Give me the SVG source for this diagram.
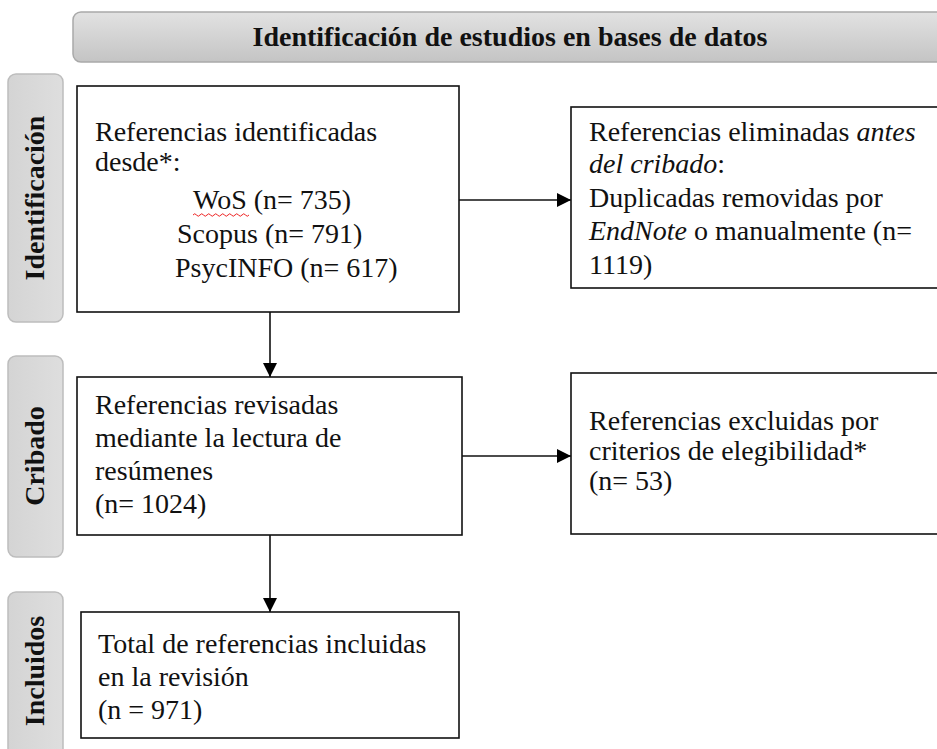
<svg xmlns="http://www.w3.org/2000/svg" width="937" height="749" viewBox="0 0 937 749">
<defs>
<linearGradient id="hg" x1="0" y1="0" x2="0" y2="1">
<stop offset="0" stop-color="#e2e2e2"/>
<stop offset="1" stop-color="#c4c4c4"/>
</linearGradient>
<linearGradient id="sg" x1="0" y1="0" x2="1" y2="0">
<stop offset="0" stop-color="#d4d4d4"/>
<stop offset="1" stop-color="#dedede"/>
</linearGradient>
<marker id="ah" viewBox="0 0 10 10" refX="10" refY="5" markerWidth="10" markerHeight="10" markerUnits="userSpaceOnUse" orient="auto">
<path d="M0,0 L10,5 L0,10 z" fill="#000"/>
</marker>
<marker id="ah2" viewBox="0 0 14 14" refX="14" refY="7" markerWidth="14" markerHeight="14" markerUnits="userSpaceOnUse" orient="auto">
<path d="M0,0 L14,7 L0,14 z" fill="#000"/>
</marker>
</defs>
<style>
.t{font-family:"Liberation Serif","Times New Roman",serif;font-size:28px;fill:#111}
.b{font-weight:bold}
.i{font-style:italic}
.box{fill:#fff;stroke:#111;stroke-width:1.6}
.side{fill:url(#sg);stroke:#bdbdbd;stroke-width:1.5}
.ln{stroke:#111;stroke-width:1.6;fill:none}
</style>
<rect width="937" height="749" fill="#fff"/>

<g id="header">
<rect x="73" y="12" width="880" height="50" rx="8" ry="8" fill="url(#hg)" stroke="#a9a9a9" stroke-width="1.5"/>
<text class="t b" x="510" y="46" text-anchor="middle">Identificación de estudios en bases de datos</text>
</g>

<g id="side-identificacion">
<rect class="side" x="8" y="74" width="55" height="248" rx="8" ry="8"/>
<text class="t b" transform="translate(44,198) rotate(-90)" text-anchor="middle">Identificación</text>
</g>
<g id="side-cribado">
<rect class="side" x="8" y="356" width="55" height="201" rx="8" ry="8"/>
<text class="t b" transform="translate(44,456) rotate(-90)" text-anchor="middle">Cribado</text>
</g>
<g id="side-incluidos">
<rect class="side" x="8" y="592" width="55" height="170" rx="8" ry="8"/>
<text class="t b" transform="translate(44,671) rotate(-90)" text-anchor="middle">Incluidos</text>
</g>

<g id="connectors">
<line class="ln" x1="270" y1="312" x2="270" y2="377" marker-end="url(#ah2)"/>
<line class="ln" x1="270" y1="535" x2="270" y2="612" marker-end="url(#ah2)"/>
<line class="ln" x1="459" y1="200" x2="571" y2="200" marker-end="url(#ah2)"/>
<line class="ln" x1="462" y1="456" x2="571" y2="456" marker-end="url(#ah2)"/>
</g>

<g id="node-identificadas">
<rect class="box" x="77" y="86" width="382" height="226"/>
<text class="t" x="95" y="141">Referencias identificadas</text>
<text class="t" x="95" y="171">desde*:</text>
<text class="t" x="193" y="209">WoS (n= 735)</text>
<path d="M193,215 q1.75,-2.5 3.5,0 t3.5,0 t3.5,0 t3.5,0 t3.5,0 t3.5,0 t3.5,0 t3.5,0 t3.5,0 t3.5,0 t3.5,0 t3.5,0 t3.5,0 t3.5,0 t3.5,0 t3.5,0" fill="none" stroke="#e22" stroke-width="1"/>
<text class="t" x="177" y="243">Scopus (n= 791)</text>
<text class="t" x="175" y="277">PsycINFO (n= 617)</text>
</g>

<g id="node-eliminadas">
<rect class="box" x="571" y="107" width="380" height="181"/>
<text class="t" x="589" y="141">Referencias eliminadas <tspan class="i">antes</tspan></text>
<text class="t" x="589" y="173"><tspan class="i">del cribado</tspan>:</text>
<text class="t" x="589" y="207">Duplicadas removidas por</text>
<text class="t" x="589" y="240"><tspan class="i">EndNote</tspan> o manualmente (n=</text>
<text class="t" x="589" y="274">1119)</text>
</g>

<g id="node-revisadas">
<rect class="box" x="77" y="377" width="385" height="158"/>
<text class="t" x="95" y="414">Referencias revisadas</text>
<text class="t" x="95" y="447">mediante la lectura de</text>
<text class="t" x="95" y="480">resúmenes</text>
<text class="t" x="95" y="513">(n= 1024)</text>
</g>

<g id="node-excluidas">
<rect class="box" x="571" y="373" width="380" height="161"/>
<text class="t" x="589" y="430">Referencias excluidas por</text>
<text class="t" x="589" y="460">criterios de elegibilidad*</text>
<text class="t" x="589" y="490">(n= 53)</text>
</g>

<g id="node-incluidas">
<rect class="box" x="81" y="612" width="378" height="126"/>
<text class="t" x="98" y="653">Total de referencias incluidas</text>
<text class="t" x="98" y="686">en la revisión</text>
<text class="t" x="98" y="719">(n = 971)</text>
</g>
</svg>
